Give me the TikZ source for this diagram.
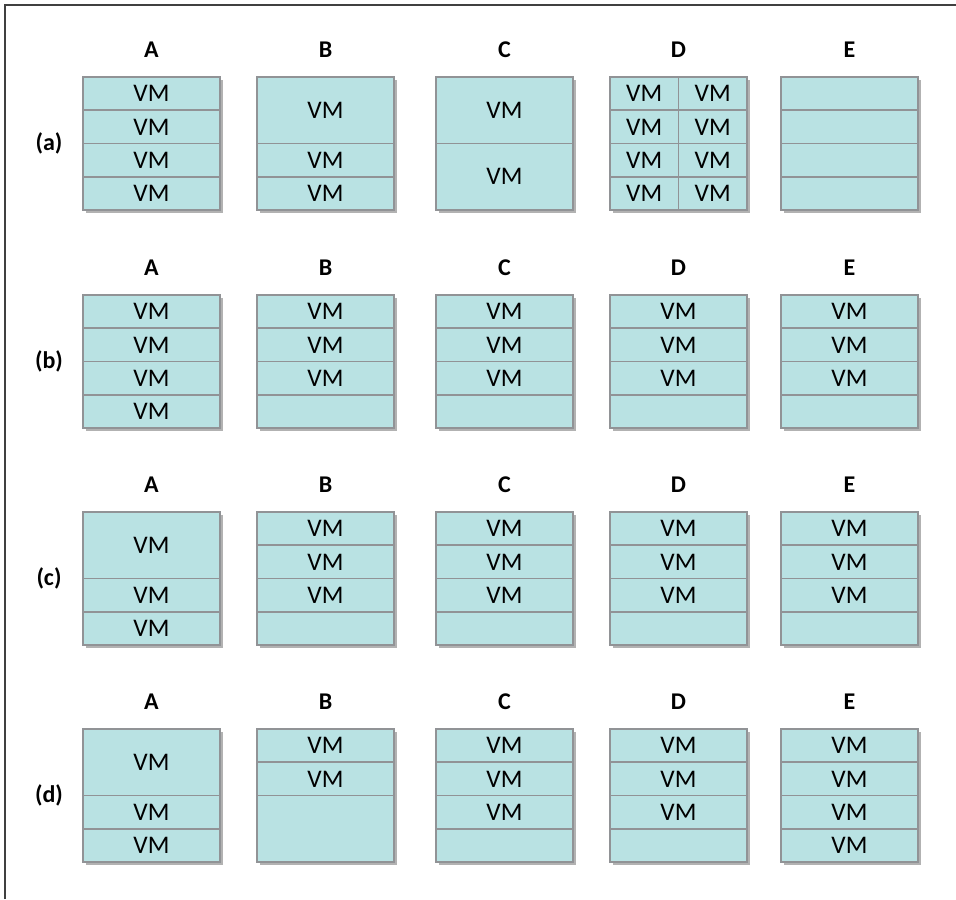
\documentclass[tikz,border=0pt]{standalone}
\usepackage{fontspec}
\setmainfont{Carlito}
\usetikzlibrary{shadows}

\definecolor{vmfill}{HTML}{B9E2E3}
\definecolor{slotline}{HTML}{919396}
\definecolor{framegray}{HTML}{404040}

\tikzset{
  host/.style={draw=slotline,fill=vmfill,line width=1.4pt,inner sep=0pt,
    minimum width=102.75pt,minimum height=99.75pt,
    drop shadow={shadow xshift=2.5pt,shadow yshift=-2.5pt,opacity=.5,fill=black!60}},
  cell/.style={draw=slotline,fill=vmfill,line width=1.4pt,inner sep=0pt,
    minimum width=102.75pt,font=\fontsize{19}{19}\selectfont},
  halfcell/.style={cell,minimum width=51.375pt,minimum height=24.9375pt},
  hostlabel/.style={font=\bfseries\fontsize{18}{18}\selectfont}
}

% one host: name, x, top y, list of start/size/text of its slots
\newcommand\hostbox[4]{%
  \node[host] (#1) at (#2,#3+66.5) {};
  \foreach \s/\h/\t [count=\i] in {#4}
    \node[cell,minimum height=\h*24.9375pt,anchor=north] (#1-\i)
      at ([yshift=-\s*24.9375pt]#1.north) {\t};
}

\begin{document}
\begin{tikzpicture}[x=0.75pt,y=-0.75pt]
\useasboundingbox (0,0) rectangle (956,899);

\draw[framegray,line width=1.1pt] (5,899) -- (5,5) -- (956,5);

% column and row labels
\foreach \r/\y in {a/77,b/295,c/512,d/729} {
  \node[hostlabel] (row-\r) at (49,\y+66.5) {(\r)};
  \foreach \c/\x in {A/151.5,B/325.5,C/504.5,D/678.5,E/849.5}
    \node[hostlabel] (\r-\c-lbl) at (\x,\y-27) {\c};
}

% (a)
\hostbox{a-A}{151.5}{77}{0/1/VM,1/1/VM,2/1/VM,3/1/VM}
\hostbox{a-B}{325.5}{77}{0/2/VM,2/1/VM,3/1/VM}
\hostbox{a-C}{504.5}{77}{0/2/VM,2/2/VM}
\node[host] (a-D) at (678.5,143.5) {};
\foreach \s in {0,...,3} {
  \node[halfcell,anchor=north west] (a-D-l\s) at ([yshift=-\s*24.9375pt]a-D.north west) {VM};
  \node[halfcell,anchor=north east] (a-D-r\s) at ([yshift=-\s*24.9375pt]a-D.north east) {VM};
}
\hostbox{a-E}{849.5}{77}{0/1/{},1/1/{},2/1/{},3/1/{}}

% (b)
\hostbox{b-A}{151.5}{295}{0/1/VM,1/1/VM,2/1/VM,3/1/VM}
\hostbox{b-B}{325.5}{295}{0/1/VM,1/1/VM,2/1/VM,3/1/{}}
\hostbox{b-C}{504.5}{295}{0/1/VM,1/1/VM,2/1/VM,3/1/{}}
\hostbox{b-D}{678.5}{295}{0/1/VM,1/1/VM,2/1/VM,3/1/{}}
\hostbox{b-E}{849.5}{295}{0/1/VM,1/1/VM,2/1/VM,3/1/{}}

% (c)
\hostbox{c-A}{151.5}{512}{0/2/VM,2/1/VM,3/1/VM}
\hostbox{c-B}{325.5}{512}{0/1/VM,1/1/VM,2/1/VM,3/1/{}}
\hostbox{c-C}{504.5}{512}{0/1/VM,1/1/VM,2/1/VM,3/1/{}}
\hostbox{c-D}{678.5}{512}{0/1/VM,1/1/VM,2/1/VM,3/1/{}}
\hostbox{c-E}{849.5}{512}{0/1/VM,1/1/VM,2/1/VM,3/1/{}}

% (d)
\hostbox{d-A}{151.5}{729}{0/2/VM,2/1/VM,3/1/VM}
\hostbox{d-B}{325.5}{729}{0/1/VM,1/1/VM,2/2/{}}
\hostbox{d-C}{504.5}{729}{0/1/VM,1/1/VM,2/1/VM,3/1/{}}
\hostbox{d-D}{678.5}{729}{0/1/VM,1/1/VM,2/1/VM,3/1/{}}
\hostbox{d-E}{849.5}{729}{0/1/VM,1/1/VM,2/1/VM,3/1/VM}
\end{tikzpicture}
\end{document}
